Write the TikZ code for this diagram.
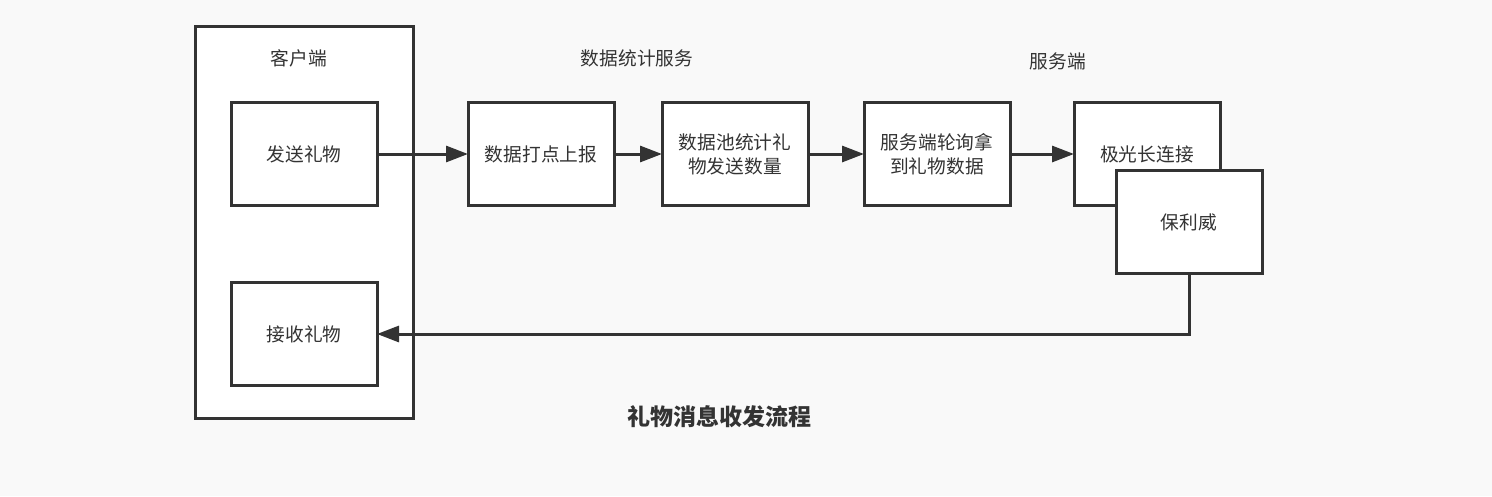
\documentclass[tikz,border=0pt]{standalone}
\usepackage{fontspec}
\setmainfont{Noto Sans CJK SC}
\usetikzlibrary{arrows.meta}
\definecolor{bg}{HTML}{F9F9F9}
\definecolor{ink}{HTML}{333333}
\tikzset{
  box/.style={draw=ink, fill=white, line width=3pt, minimum width=146pt, minimum height=103pt, inner sep=0pt, outer sep=0pt, align=center, text=ink, font=\fontsize{18.7}{24}\selectfont},
  lbl/.style={text=ink, font=\fontsize{18.7}{24}\selectfont, inner sep=0pt},
  arr/.style={draw=ink, line width=3pt, -{Triangle[length=22pt,width=16pt]}}
}
\begin{document}
\begin{tikzpicture}[x=1pt,y=-1pt]
\useasboundingbox (0,0) rectangle (1492,496);
\fill[bg] (0,0) rectangle (1492,496);
\node[box, minimum width=218pt, minimum height=392pt] (client) at (304,222) {};
\node[lbl] (clientlbl) at (299,58) {客户端};
\node[lbl] (statlbl) at (637,58) {数据统计服务};
\node[lbl] (serverlbl) at (1058,61) {服务端};
\node[box] (send) at (304,154) {\raisebox{-2pt}{发送礼物}};
\node[box] (recv) at (304,334) {\raisebox{-2pt}{接收礼物}};
\node[box] (report) at (541,154) {\raisebox{-2pt}{数据打点上报}};
\node[box] (pool) at (735,154) {数据池统计礼\\物发送数量};
\node[box] (poll) at (937,154) {服务端轮询拿\\到礼物数据};
\node[box] (jg) at (1147,154) {\raisebox{-3pt}{极光长连接}};
\node[box] (blw) at (1189,222) {保利威};
\node[text=ink, font=\fontsize{23}{26}\selectfont\bfseries, inner sep=0pt] (title) at (719,417) {礼物消息收发流程};
\draw[arr] (send.east) -- (report.west);
\draw[arr] (report.east) -- (pool.west);
\draw[arr] (pool.east) -- (poll.west);
\draw[arr] (poll.east) -- (jg.west);
\draw[arr] (blw.south) |- (recv.east);
\end{tikzpicture}
\end{document}
